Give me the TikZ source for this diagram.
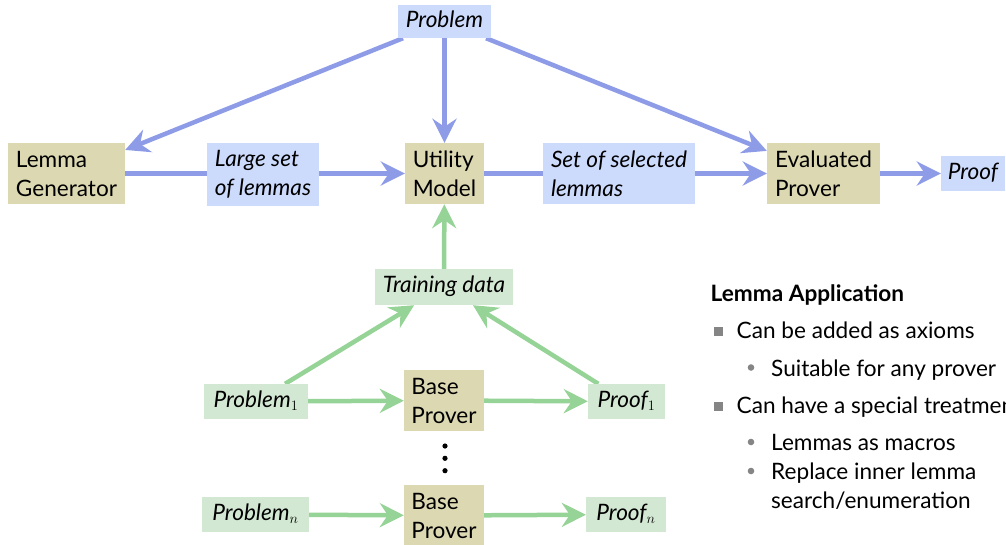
\documentclass[tikz,border=0pt]{standalone}
\usepackage{fontspec}
\setmainfont{Lato}
\usetikzlibrary{arrows.meta,backgrounds}
\definecolor{tanfill}{HTML}{DCD8B2}
\definecolor{bluefill}{HTML}{CCDAFC}
\definecolor{greenfill}{HTML}{D3E8D3}
\definecolor{bluearrow}{HTML}{8E9CE8}
\definecolor{greenarrow}{HTML}{96D396}
\definecolor{bulletgray}{HTML}{858585}
\tikzset{
  base/.style={inner sep=0pt, font=\fontsize{22.6}{29}\selectfont, text height=16pt, text depth=5pt},
  tanbox/.style={base, fill=tanfill, align=left, minimum height=61pt, text height=, text depth=},
  bluebox/.style={base, fill=bluefill, font=\fontsize{22.6}{29}\selectfont\itshape},
  bluebox2/.style={bluebox, align=left, minimum height=63pt, text height=, text depth=},
  greenbox/.style={base, fill=greenfill, font=\fontsize{22.6}{29}\selectfont\itshape, minimum height=35pt},
  barrow/.style={draw=bluearrow, line width=4.5pt, -{Stealth[length=24pt,width=24pt,inset=8pt]}},
  garrow/.style={draw=greenarrow, line width=4.5pt, -{Stealth[length=24pt,width=24pt,inset=8pt]}},
  txt/.style={inner sep=0pt, anchor=base west, font=\fontsize{22.6}{29}\selectfont},
}
\begin{document}
\begin{tikzpicture}[x=1pt,y=-1pt]
\clip (0,0) rectangle (1006,544);
% top row
\node[bluebox, minimum width=93pt, minimum height=33pt] (prob) at (444.5,21.5) {Problem};
\node[tanbox, minimum width=117pt] (lg) at (66.5,173.5) {Lemma\\Generator};
\node[bluebox2, minimum width=112pt] (ls) at (263,174) {Large set\\of lemmas};
\node[tanbox, minimum width=79pt] (um) at (444.5,173.5) {Utility\\Model};
\node[bluebox2, minimum width=152pt, minimum height=61pt] (ss) at (619,173.5) {Set of selected\\lemmas};
\node[tanbox, minimum width=113pt] (ep) at (823.5,173.5) {Evaluated\\Prover};
\node[bluebox, minimum width=64pt, minimum height=35pt] (proof) at (973,173.5) {Proof};
% training part
\node[greenbox, minimum width=138pt, minimum height=36pt] (td) at (444,287) {Training data};
\node[greenbox, minimum width=104pt] (p1) at (256,401.5) {Problem$_1$};
\node[tanbox, minimum width=80pt] (bp1) at (444,400.5) {Base\\Prover};
\node[greenbox, minimum width=77pt] (pf1) at (626.5,401.5) {Proof$_1$};
\node[greenbox, minimum width=107pt] (pn) at (255.5,514.5) {Problem$_n$};
\node[tanbox, minimum width=80pt] (bpn) at (444,515.5) {Base\\Prover};
\node[greenbox, minimum width=80pt] (pfn) at (626,514.5) {Proof$_n$};
% dots
\fill (445,446) circle (2.6pt) (445,458.3) circle (2.6pt) (445,470.7) circle (2.6pt);
\begin{scope}[on background layer]
\draw[barrow] (prob) -- (lg);
\draw[barrow] (prob) -- (um);
\draw[barrow] (prob) -- (ep);
\draw[barrow] (lg) -- (um);
\draw[barrow] (um) -- (ep);
\draw[barrow] (ep) -- (proof);
\draw[garrow] (td) -- (um);
\draw[garrow] (p1) -- (td);
\draw[garrow] (pf1) -- (td);
\draw[garrow] (p1) -- (bp1);
\draw[garrow] (bp1) -- (pf1);
\draw[garrow] (pn) -- (bpn);
\draw[garrow] (bpn) -- (pfn);
\end{scope}
% right text
\node[txt, font=\fontsize{22.6}{29}\selectfont\bfseries] (h) at (710.5,301.5) {Lemma Application};
\fill[bulletgray] (714,327) rectangle (723,336);
\node[txt] (i1) at (736.5,338) {Can be added as axioms};
\fill[bulletgray] (751,367.5) circle (3.3pt);
\node[txt] (i1a) at (771,376) {Suitable for any prover};
\fill[bulletgray] (714,402) rectangle (723,411);
\node[txt] (i2) at (736.5,413) {Can have a special treatment};
\fill[bulletgray] (751,442) circle (3.3pt);
\node[txt] (i2a) at (771,450) {Lemmas as macros};
\fill[bulletgray] (751,471) circle (3.3pt);
\node[txt] (i2b) at (771,479.5) {Replace inner lemma};
\node[txt] (i2c) at (771,508) {search/enumeration};
\end{tikzpicture}
\end{document}
